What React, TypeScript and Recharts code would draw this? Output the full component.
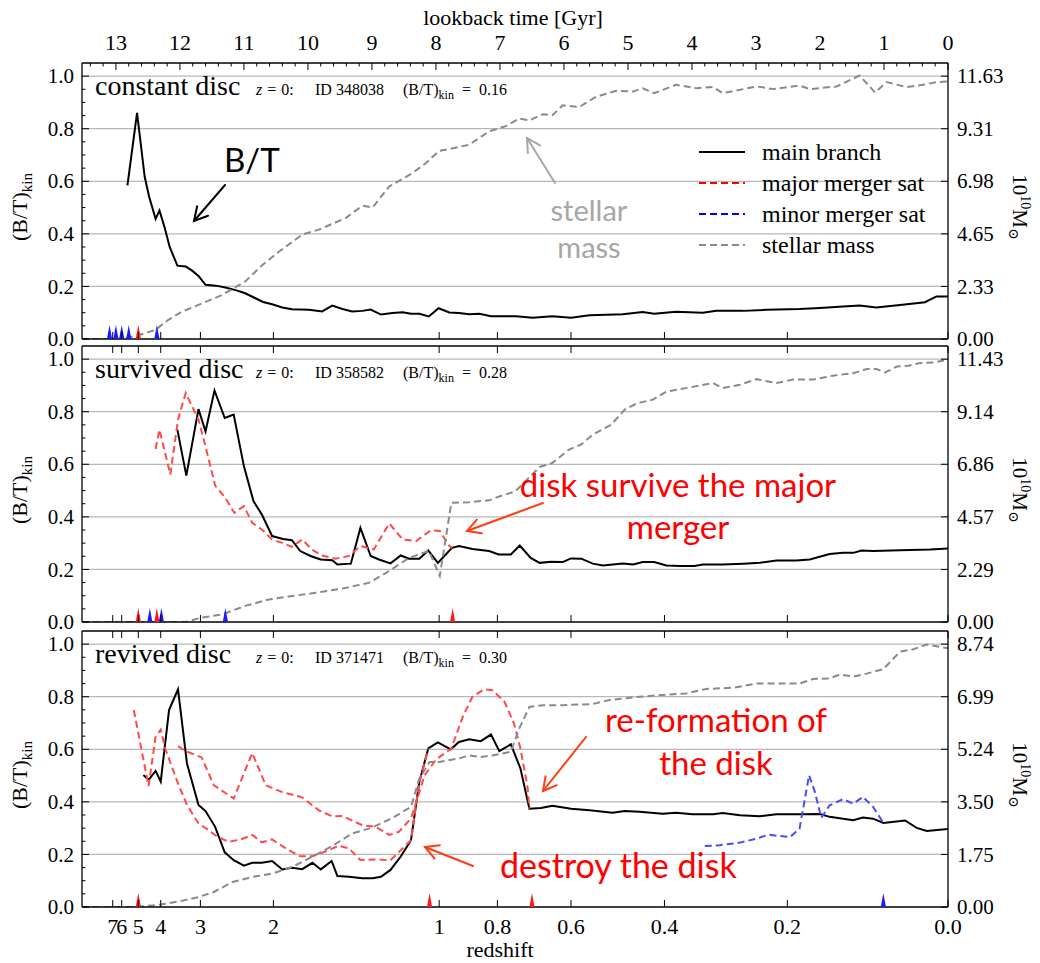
import React from 'react';
import { ComposedChart, Line, Scatter, XAxis, YAxis, ReferenceLine } from 'recharts';

type Pair = [number, number];

// x axis is lookback time in Gyr (reversed: 0 at the right)
const T_MAX = 13.53;
const lookbackLabels = [0, 1, 2, 3, 4, 5, 6, 7, 8, 9, 10, 11, 12, 13];
const redshiftLabels = ['7', '6', '5', '4', '3', '2', '1', '0.8', '0.6', '0.4', '0.2', '0.0'];
const redshiftTimes = [13.05, 12.91, 12.65, 12.3, 11.68, 10.54, 7.95, 7.04, 5.89, 4.43, 2.51, 0];
const btGrid = [0.2, 0.4, 0.6, 0.8, 1.0];
const massFractions = [0, 0.2, 0.4, 0.6, 0.8, 1.0];

// panel 1: constant disc (ID 348038)
const p1Main: Pair[] = [
  [12.82, 0.584], [12.67, 0.86], [12.55, 0.616], [12.48, 0.54], [12.38, 0.457], [12.32, 0.489],
  [12.24, 0.425], [12.16, 0.35], [12.04, 0.279], [11.91, 0.276], [11.81, 0.26], [11.71, 0.24],
  [11.6, 0.206], [11.44, 0.203], [11.29, 0.196], [11.13, 0.186], [10.98, 0.174], [10.82, 0.155],
  [10.7, 0.141], [10.56, 0.132], [10.4, 0.12], [10.25, 0.113], [9.98, 0.111], [9.78, 0.105],
  [9.62, 0.127], [9.46, 0.114], [9.31, 0.105], [9.15, 0.107], [9.02, 0.112], [8.86, 0.093],
  [8.68, 0.099], [8.52, 0.102], [8.39, 0.096], [8.26, 0.096], [8.11, 0.086], [7.96, 0.117],
  [7.79, 0.101], [7.64, 0.099], [7.48, 0.094], [7.32, 0.096], [7.14, 0.087], [6.96, 0.087],
  [6.75, 0.087], [6.49, 0.081], [6.18, 0.087], [5.89, 0.081], [5.6, 0.09], [5.08, 0.094],
  [4.77, 0.103], [4.59, 0.096], [4.25, 0.104], [3.83, 0.1], [3.62, 0.107], [3.2, 0.107],
  [2.84, 0.111], [2.32, 0.114], [2.0, 0.118], [1.64, 0.124], [1.38, 0.127], [1.12, 0.12],
  [0.75, 0.129], [0.36, 0.14], [0.18, 0.162], [0, 0.162],
];
const p1Mass: Pair[] = [
  [13.53, 0], [12.9, 0], [12.64, 0.17], [12.38, 0.41], [12.18, 0.85], [11.97, 1.21], [11.65, 1.58],
  [11.34, 1.95], [10.98, 2.55], [10.71, 3.28], [10.45, 3.87], [10.09, 4.62], [9.83, 4.84],
  [9.41, 5.35], [9.15, 5.9], [8.99, 5.82], [8.73, 6.75], [8.37, 7.34], [8.16, 7.78], [7.95, 8.33],
  [7.77, 8.42], [7.48, 8.6], [7.17, 9.19], [6.91, 9.42], [6.7, 9.76], [6.54, 9.68], [6.33, 9.95],
  [6.18, 9.9], [6.02, 10.34], [5.76, 10.27], [5.5, 10.72], [5.18, 10.99], [4.92, 10.95],
  [4.77, 11.1], [4.59, 10.88], [4.25, 11.25], [3.93, 11.1], [3.67, 11.15], [3.52, 10.88],
  [3.2, 11.06], [2.99, 11.18], [2.73, 11.06], [2.32, 11.22], [2.16, 11.06], [1.74, 11.18],
  [1.38, 11.66], [1.14, 10.91], [0.96, 11.37], [0.65, 11.15], [0.39, 11.25], [0.18, 11.37], [0, 11.4],
];
const p1MajorMarks = [12.65];
const p1MinorMarks = [13.1, 13.0, 12.91, 12.8, 12.36];

// panel 2: survived disc (ID 358582)
const p2Main: Pair[] = [
  [12.04, 0.732], [11.9, 0.557], [11.71, 0.81], [11.6, 0.725], [11.46, 0.881], [11.3, 0.776],
  [11.16, 0.789], [11.0, 0.592], [10.85, 0.459], [10.72, 0.409], [10.56, 0.327], [10.39, 0.316],
  [10.25, 0.311], [10.12, 0.27], [9.96, 0.251], [9.8, 0.238], [9.62, 0.235], [9.54, 0.219],
  [9.33, 0.222], [9.18, 0.358], [9.02, 0.251], [8.89, 0.238], [8.71, 0.223], [8.55, 0.253],
  [8.42, 0.241], [8.26, 0.241], [8.12, 0.272], [7.97, 0.225], [7.75, 0.282], [7.64, 0.289],
  [7.43, 0.278], [7.17, 0.27], [7.02, 0.257], [6.83, 0.257], [6.69, 0.291], [6.52, 0.244],
  [6.38, 0.225], [6.2, 0.229], [6.02, 0.228], [5.89, 0.242], [5.73, 0.241], [5.55, 0.222],
  [5.39, 0.215], [5.08, 0.223], [4.92, 0.219], [4.77, 0.228], [4.59, 0.228], [4.4, 0.215],
  [4.19, 0.213], [3.96, 0.213], [3.83, 0.219], [3.52, 0.219], [3.2, 0.222], [2.94, 0.225],
  [2.68, 0.234], [2.37, 0.234], [2.16, 0.238], [1.85, 0.259], [1.64, 0.263], [1.48, 0.263],
  [1.35, 0.272], [1.17, 0.27], [0.75, 0.273], [0.28, 0.276], [0, 0.28],
];
const p2MajorSat: Pair[] = [
  [12.38, 0.658], [12.32, 0.732], [12.15, 0.561], [12.03, 0.77], [11.91, 0.871], [11.71, 0.77],
  [11.6, 0.668], [11.45, 0.519], [11.29, 0.472], [11.15, 0.415], [11.0, 0.441], [10.87, 0.377],
  [10.72, 0.352], [10.56, 0.314], [10.4, 0.301], [10.25, 0.286], [10.09, 0.314], [9.94, 0.276],
  [9.78, 0.253], [9.57, 0.241], [9.36, 0.251], [9.18, 0.289], [8.97, 0.276], [8.73, 0.375],
  [8.52, 0.314], [8.31, 0.308], [8.08, 0.349], [7.94, 0.346], [7.79, 0.289], [7.75, 0.282],
];
const p2Mass: Pair[] = [
  [13.53, 0], [11.91, 0], [11.68, 0.18], [11.34, 0.33], [10.98, 0.7], [10.61, 0.98], [10.25, 1.13],
  [9.88, 1.27], [9.47, 1.45], [9.05, 1.7], [8.73, 2.22], [8.42, 2.79], [8.11, 3.09], [7.94, 2.0],
  [7.76, 5.18], [7.48, 5.21], [7.17, 5.29], [7.01, 5.46], [6.76, 5.68], [6.38, 6.74], [6.18, 6.92],
  [5.92, 7.5], [5.73, 7.72], [5.55, 8.15], [5.26, 8.58], [5.05, 9.24], [4.85, 9.52], [4.61, 9.67],
  [4.4, 10.02], [4.09, 10.17], [3.67, 10.39], [3.52, 10.17], [3.25, 10.32], [2.99, 10.56],
  [2.68, 10.39], [2.42, 10.54], [2.11, 10.54], [1.8, 10.71], [1.48, 10.82], [1.27, 11.0],
  [1.12, 11.0], [0.98, 10.85], [0.8, 11.11], [0.62, 11.14], [0.44, 11.26], [0.23, 11.28], [0, 11.4],
];
const p2MajorMarks = [12.65, 12.36, 7.74];
const p2MinorMarks = [12.47, 12.29, 11.29];

// panel 3: revived disc (ID 371471)
const p3Main: Pair[] = [
  [12.57, 0.502], [12.49, 0.483], [12.38, 0.518], [12.3, 0.477], [12.17, 0.749], [12.03, 0.828],
  [11.89, 0.546], [11.71, 0.388], [11.6, 0.365], [11.45, 0.305], [11.3, 0.208], [11.16, 0.178],
  [11.0, 0.157], [10.87, 0.168], [10.72, 0.168], [10.56, 0.175], [10.4, 0.143], [10.25, 0.149],
  [10.09, 0.144], [9.93, 0.168], [9.8, 0.143], [9.63, 0.175], [9.54, 0.118], [9.36, 0.115],
  [9.15, 0.109], [8.99, 0.109], [8.86, 0.115], [8.71, 0.141], [8.55, 0.192], [8.39, 0.254],
  [8.26, 0.476], [8.12, 0.603], [7.97, 0.626], [7.77, 0.6], [7.64, 0.628], [7.48, 0.638],
  [7.3, 0.631], [7.14, 0.656], [7.01, 0.593], [6.83, 0.619], [6.68, 0.527], [6.54, 0.374],
  [6.36, 0.377], [6.18, 0.385], [5.89, 0.374], [5.6, 0.368], [5.24, 0.359], [5.05, 0.365],
  [4.82, 0.362], [4.46, 0.355], [4.25, 0.359], [3.99, 0.353], [3.67, 0.353], [3.52, 0.358],
  [3.25, 0.349], [2.94, 0.345], [2.68, 0.353], [2.32, 0.353], [2.0, 0.354], [1.85, 0.343],
  [1.48, 0.33], [1.33, 0.34], [1.17, 0.336], [1.01, 0.32], [0.67, 0.329], [0.49, 0.301],
  [0.33, 0.289], [0, 0.297],
];
const p3MajorSatA: Pair[] = [
  [12.72, 0.749], [12.49, 0.46], [12.38, 0.648], [12.3, 0.675], [12.23, 0.603], [12.05, 0.483],
  [11.89, 0.388], [11.71, 0.318], [11.55, 0.292], [11.42, 0.268], [11.24, 0.248], [11.05, 0.257],
  [10.87, 0.274], [10.72, 0.246], [10.56, 0.257], [10.3, 0.216], [10.12, 0.193], [9.93, 0.193],
  [9.72, 0.212], [9.52, 0.233], [9.36, 0.223], [9.18, 0.179], [8.94, 0.181], [8.71, 0.178],
  [8.39, 0.254], [8.26, 0.476], [8.12, 0.603],
];
const p3MajorSatB: Pair[] = [
  [12.03, 0.612], [11.92, 0.594], [11.66, 0.569], [11.47, 0.463], [11.16, 0.413], [10.87, 0.586],
  [10.66, 0.463], [10.4, 0.437], [10.09, 0.417], [9.83, 0.368], [9.62, 0.345], [9.46, 0.346],
  [9.15, 0.311], [8.94, 0.305], [8.73, 0.274], [8.58, 0.286], [8.39, 0.337], [8.28, 0.42],
  [8.18, 0.5], [8.0, 0.561], [7.76, 0.603], [7.58, 0.724], [7.43, 0.8], [7.25, 0.828],
  [7.12, 0.825], [6.93, 0.781], [6.78, 0.698], [6.68, 0.603], [6.57, 0.457], [6.54, 0.374],
];
const p3MinorSat: Pair[] = [
  [3.8, 0.232], [3.57, 0.235], [3.25, 0.245], [2.99, 0.26], [2.81, 0.275], [2.63, 0.27],
  [2.47, 0.266], [2.32, 0.298], [2.17, 0.501], [2.08, 0.438], [1.98, 0.339], [1.85, 0.387],
  [1.64, 0.41], [1.48, 0.393], [1.33, 0.419], [1.17, 0.381], [1.01, 0.32],
];
const p3Mass: Pair[] = [
  [13.53, 0], [12.67, 0], [12.31, 0.08], [12.0, 0.19], [11.71, 0.33], [11.47, 0.5], [11.18, 0.83],
  [10.87, 1.0], [10.56, 1.11], [10.25, 1.33], [9.94, 1.66], [9.62, 2.03], [9.31, 2.44], [9.0, 2.64],
  [8.68, 2.96], [8.39, 3.33], [8.26, 4.27], [8.1, 4.82], [7.95, 4.82], [7.64, 4.94], [7.48, 5.04],
  [7.3, 4.99], [7.12, 5.04], [6.83, 5.16], [6.7, 5.93], [6.54, 6.65], [6.33, 6.71], [6.02, 6.71],
  [5.55, 6.75], [5.29, 6.88], [4.82, 6.99], [4.4, 7.06], [4.09, 7.1], [3.78, 7.25], [3.36, 7.29],
  [2.99, 7.43], [2.32, 7.43], [2.11, 7.58], [1.85, 7.6], [1.69, 7.73], [1.48, 7.66], [1.27, 7.76],
  [1.01, 7.91], [0.75, 8.49], [0.54, 8.57], [0.33, 8.73], [0, 8.6],
];
const p3MajorMarks = [12.65, 8.1, 6.5];
const p3MinorMarks = [1.01];

const massMaxima = [11.634, 11.43, 8.74];
const panelTitles = ['constant disc', 'survived disc', 'revived disc'];
const panelIds = ['348038', '358582', '371471'];
const panelBT = ['0.16', '0.28', '0.30'];

const SERIF = "'Liberation Serif', 'DejaVu Serif', serif";
const SANS = "Lato, 'Open Sans', sans-serif";
const PLOT_H = 276;
const PANEL_TOPS = [63, 346, 631];
const RED = '#ff4a4a';
const BLUE = '#4a4aff';
const GREY = '#8a8a8a';

const rows = (p: Pair[]) => p.map(([t, v]) => ({ t, v }));
const massRows = (p: Pair[]) => p.map(([t, m]) => ({ t, m }));
const marks = (ts: number[]) => ts.map((t) => ({ t, v: 0 }));

const leftTicks: number[] = [];
for (let i = 0; i <= 20; i++) leftTicks.push(i * 0.05);
const lookbackTicks: number[] = [];
for (let i = 0; i <= 67; i++) lookbackTicks.push(i * 0.2);

const LeftTick = (props: any) => {
  const { x, y, payload } = props;
  const v = payload.value as number;
  const major = Math.abs(v * 5 - Math.round(v * 5)) < 1e-6;
  return (
    <g>
      <line x1={x} x2={x + (major ? 7 : 3.5)} y1={y} y2={y} stroke="#000" strokeWidth={1} />
      {major && (
        <text x={x - 8} y={y} dy="0.34em" textAnchor="end" fontSize={21} fontFamily={SERIF} fill="#000">
          {v.toFixed(1)}
        </text>
      )}
    </g>
  );
};

const RightTick = (props: any) => {
  const { x, y, payload } = props;
  return (
    <g>
      <line x1={x - 7} x2={x} y1={y} y2={y} stroke="#000" strokeWidth={1} />
      <text x={x + 9} y={y} dy="0.34em" textAnchor="start" fontSize={21} fontFamily={SERIF} fill="#000">
        {(payload.value as number).toFixed(2)}
      </text>
    </g>
  );
};

const bottomTick = (showLabels: boolean) => (props: any) => {
  const { x, y, index } = props;
  return (
    <g>
      <line x1={x} x2={x} y1={y - 7} y2={y} stroke="#000" strokeWidth={1} />
      {showLabels && (
        <text x={x} y={y + 27} textAnchor="middle" fontSize={22} fontFamily={SERIF} fill="#000">
          {redshiftLabels[index]}
        </text>
      )}
    </g>
  );
};

const RedshiftTopTick = (props: any) => {
  const { x, y } = props;
  return <line x1={x} x2={x} y1={y} y2={y + 7} stroke="#000" strokeWidth={1} />;
};

const LookbackTick = (props: any) => {
  const { x, y, payload } = props;
  const v = payload.value as number;
  const major = Math.abs(v - Math.round(v)) < 1e-6;
  return (
    <g>
      <line x1={x} x2={x} y1={y} y2={y + (major ? 7 : 3.5)} stroke="#000" strokeWidth={1} />
      {major && (
        <text x={x} y={y - 13} textAnchor="middle" fontSize={22} fontFamily={SERIF} fill="#000">
          {lookbackLabels[Math.round(v)]}
        </text>
      )}
    </g>
  );
};

const triangle = (color: string) => (props: any) => {
  const { cx, cy } = props;
  return <path d={`M${cx - 2.6},${cy} L${cx + 2.6},${cy} L${cx},${cy - 14} Z`} fill={color} />;
};

interface PanelProps {
  index: number;
  main: Pair[];
  majorSats: Pair[][];
  minorSats: Pair[][];
  mass: Pair[];
  majorMarks: number[];
  minorMarks: number[];
}

const Panel = ({ index, main, majorSats, minorSats, mass, majorMarks, minorMarks }: PanelProps) => {
  const top = PANEL_TOPS[index];
  const mMax = massMaxima[index];
  const frame = { stroke: '#000', strokeWidth: 1.3 };
  return (
    <div style={{ position: 'absolute', left: 0, top: top - 63 }}>
      <ComposedChart width={1040} height={394} margin={{ top: 33, right: 0, bottom: 5, left: 0 }}>
        <XAxis
          xAxisId="bottom"
          orientation="bottom"
          dataKey="t"
          type="number"
          domain={[0, T_MAX]}
          reversed
          allowDataOverflow
          ticks={redshiftTimes}
          interval={0}
          tickSize={0}
          tickMargin={0}
          tickLine={false}
          tick={bottomTick(index === 2)}
          axisLine={frame}
          height={50}
        />
        <XAxis
          xAxisId="top"
          orientation="top"
          dataKey="t"
          type="number"
          domain={[0, T_MAX]}
          reversed
          allowDataOverflow
          ticks={index === 0 ? lookbackTicks : redshiftTimes}
          interval={0}
          tickSize={0}
          tickMargin={0}
          tickLine={false}
          tick={index === 0 ? LookbackTick : RedshiftTopTick}
          axisLine={frame}
          height={30}
        />
        <YAxis
          yAxisId="left"
          dataKey="v"
          type="number"
          domain={[0, 1.05]}
          allowDataOverflow
          ticks={leftTicks}
          interval={0}
          tickSize={0}
          tickMargin={0}
          tickLine={false}
          tick={LeftTick}
          axisLine={frame}
          width={82}
        />
        <YAxis
          yAxisId="m"
          orientation="right"
          dataKey="m"
          type="number"
          domain={[0, mMax * 1.05]}
          allowDataOverflow
          ticks={massFractions.map((f) => f * mMax)}
          interval={0}
          tickSize={0}
          tickMargin={0}
          tickLine={false}
          tick={RightTick}
          axisLine={frame}
          width={92}
        />
        {btGrid.map((g) => (
          <ReferenceLine key={g} xAxisId="bottom" yAxisId="left" y={g} stroke="#b8b8b8" strokeWidth={1.2} />
        ))}
        <Line
          xAxisId="bottom"
          yAxisId="left"
          data={rows(main)}
          dataKey="v"
          type="linear"
          stroke="#000"
          strokeWidth={2}
          dot={false}
          isAnimationActive={false}
        />
        {majorSats.map((s, i) => (
          <Line
            key={`maj${i}`}
            xAxisId="bottom"
            yAxisId="left"
            data={rows(s)}
            dataKey="v"
            type="linear"
            stroke={RED}
            strokeWidth={2}
            strokeDasharray="7 4"
            dot={false}
            isAnimationActive={false}
          />
        ))}
        {minorSats.map((s, i) => (
          <Line
            key={`min${i}`}
            xAxisId="bottom"
            yAxisId="left"
            data={rows(s)}
            dataKey="v"
            type="linear"
            stroke={BLUE}
            strokeWidth={2}
            strokeDasharray="7 4"
            dot={false}
            isAnimationActive={false}
          />
        ))}
        <Line
          xAxisId="bottom"
          yAxisId="m"
          data={massRows(mass)}
          dataKey="m"
          type="linear"
          stroke={GREY}
          strokeWidth={2}
          strokeDasharray="7 4"
          dot={false}
          isAnimationActive={false}
        />
        <Scatter
          xAxisId="top"
          yAxisId="left"
          data={marks(minorMarks)}
          shape={triangle('#1a1aff')}
          isAnimationActive={false}
        />
        <Scatter
          xAxisId="top"
          yAxisId="left"
          data={marks(majorMarks)}
          shape={triangle('#ff1a1a')}
          isAnimationActive={false}
        />
      </ComposedChart>
    </div>
  );
};

const Arrow = ({ x1, y1, x2, y2, color, width = 2 }: any) => {
  const a = Math.atan2(y2 - y1, x2 - x1);
  const len = 15;
  const spread = 0.5;
  const ax = x2 - len * Math.cos(a - spread);
  const ay = y2 - len * Math.sin(a - spread);
  const bx = x2 - len * Math.cos(a + spread);
  const by = y2 - len * Math.sin(a + spread);
  return (
    <g stroke={color} strokeWidth={width} fill="none" strokeLinecap="round">
      <line x1={x1} y1={y1} x2={x2} y2={y2} />
      <polyline points={`${ax},${ay} ${x2},${y2} ${bx},${by}`} />
    </g>
  );
};

const legendItems = [
  { label: 'main branch', color: '#000', dash: undefined },
  { label: 'major merger sat', color: '#ff0000', dash: '7 4' },
  { label: 'minor merger sat', color: '#0000ff', dash: '7 4' },
  { label: 'stellar mass', color: GREY, dash: '7 4' },
];

const Overlay = () => (
  <svg
    width={1040}
    height={963}
    style={{ position: 'absolute', left: 0, top: 0, pointerEvents: 'none' }}
  >
    <text x={513} y={25} textAnchor="middle" fontSize={22} fontFamily={SERIF}>
      lookback time [Gyr]
    </text>
    <text x={500} y={957} textAnchor="middle" fontSize={22} fontFamily={SERIF}>
      redshift
    </text>
    {PANEL_TOPS.map((top, i) => {
      const cy = top + PLOT_H / 2 + 6;
      return (
        <g key={i}>
          <text x={95} y={top + 32} fontSize={28} fontFamily={SERIF}>
            {panelTitles[i]}
          </text>
          <text x={256} y={top + 32} fontSize={16} fontFamily={SERIF}>
            <tspan fontStyle="italic">z</tspan>
            <tspan dx={5}>=</tspan>
            <tspan dx={5}>0:</tspan>
          </text>
          <text x={315} y={top + 32} fontSize={16} fontFamily={SERIF}>
            ID {panelIds[i]}
          </text>
          <text x={403} y={top + 32} fontSize={16} fontFamily={SERIF}>
            (B/T)
            <tspan dy={4} fontSize={12}>kin</tspan>
            <tspan dy={-4} dx={8}>=</tspan>
            <tspan dx={8}>{panelBT[i]}</tspan>
          </text>
          <text
            x={27}
            y={cy}
            textAnchor="middle"
            fontSize={22}
            fontFamily={SERIF}
            transform={`rotate(-90 27 ${cy})`}
          >
            (B/T)
            <tspan dy={5} fontSize={15}>kin</tspan>
          </text>
          <text
            x={1013}
            y={cy}
            textAnchor="middle"
            fontSize={21}
            fontFamily={SERIF}
            transform={`rotate(90 1013 ${cy})`}
          >
            10
            <tspan dy={-8} fontSize={14}>10</tspan>
            <tspan dy={8}>M</tspan>
            <tspan dy={4} fontSize={14}>⊙</tspan>
          </text>
        </g>
      );
    })}
    {legendItems.map((item, i) => {
      const y = 152 + i * 31;
      return (
        <g key={item.label}>
          <line x1={699} x2={745} y1={y} y2={y} stroke={item.color} strokeWidth={2} strokeDasharray={item.dash} />
          <text x={762} y={y + 8} fontSize={24} fontFamily={SERIF}>
            {item.label}
          </text>
        </g>
      );
    })}
    <text x={224} y={172} fontSize={33} fontFamily={SANS} fill="#000">
      B/T
    </text>
    <Arrow x1={225} y1={185} x2={194} y2={221} color="#000" />
    <text x={589} y={221} textAnchor="middle" fontSize={29} fontFamily={SANS} fill="#a6a6a6">
      stellar
    </text>
    <text x={589} y={258} textAnchor="middle" fontSize={29} fontFamily={SANS} fill="#a6a6a6">
      mass
    </text>
    <Arrow x1={555} y1={183} x2={527} y2={138} color="#a6a6a6" />
    <text x={678} y={497} textAnchor="middle" fontSize={33} fontFamily={SANS} fill="#ff0000">
      disk survive the major
    </text>
    <text x={678} y={539} textAnchor="middle" fontSize={33} fontFamily={SANS} fill="#ff0000">
      merger
    </text>
    <Arrow x1={543} y1={503} x2={467} y2={531} color="#ff3d12" />
    <text x={716} y={732} textAnchor="middle" fontSize={33} fontFamily={SANS} fill="#ff0000">
      re-formation of
    </text>
    <text x={716} y={775} textAnchor="middle" fontSize={33} fontFamily={SANS} fill="#ff0000">
      the disk
    </text>
    <Arrow x1={586} y1={737} x2={543} y2={791} color="#ff3d12" />
    <text x={500} y={878} fontSize={34} fontFamily={SANS} fill="#ff0000">
      destroy the disk
    </text>
    <Arrow x1={473} y1={866} x2={425} y2={847} color="#ff3d12" />
  </svg>
);

const App = () => (
  <div style={{ position: 'absolute', left: 0, top: 0, width: 1040, height: 963, background: '#fff' }}>
    <Panel
      index={0}
      main={p1Main}
      majorSats={[]}
      minorSats={[]}
      mass={p1Mass}
      majorMarks={p1MajorMarks}
      minorMarks={p1MinorMarks}
    />
    <Panel
      index={1}
      main={p2Main}
      majorSats={[p2MajorSat]}
      minorSats={[]}
      mass={p2Mass}
      majorMarks={p2MajorMarks}
      minorMarks={p2MinorMarks}
    />
    <Panel
      index={2}
      main={p3Main}
      majorSats={[p3MajorSatA, p3MajorSatB]}
      minorSats={[p3MinorSat]}
      mass={p3Mass}
      majorMarks={p3MajorMarks}
      minorMarks={p3MinorMarks}
    />
    <Overlay />
  </div>
);

export default App;
